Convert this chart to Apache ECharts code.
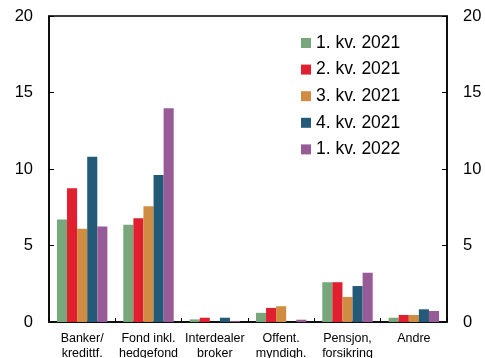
<!DOCTYPE html>
<html>
<head>
<meta charset="utf-8">
<script src="https://cdn.jsdelivr.net/npm/echarts@6/dist/echarts.min.js"></script>
<style>
  html, body { margin: 0; padding: 0; background: #fff; }
  #chart { width: 485px; height: 358px; }
</style>
</head>
<body>
<div id="chart"></div>
<script>
// Sector categories on the x axis
const categories = [
  'Banker/\nkredittf.',
  'Fond inkl.\nhedgefond',
  'Interdealer\nbroker',
  'Offent.\nmyndigh.',
  'Pensjon,\nforsikring',
  'Andre'
];

// One array per quarter
const seriesNames = ['1. kv. 2021', '2. kv. 2021', '3. kv. 2021', '4. kv. 2021', '1. kv. 2022'];
const q1_2021 = [6.7, 6.35, 0.17, 0.6, 2.6, 0.28];
const q2_2021 = [8.75, 6.78, 0.28, 0.92, 2.6, 0.46];
const q3_2021 = [6.1, 7.57, 0, 1.03, 1.64, 0.46];
const q4_2021 = [10.8, 9.6, 0.28, 0, 2.35, 0.83];
const q1_2022 = [6.25, 13.97, 0.06, 0.15, 3.22, 0.72];

const yTicks = [0, 5, 10, 15, 20];

const seriesValues = [q1_2021, q2_2021, q3_2021, q4_2021, q1_2022];
const colors = ['#79a77c', '#e0202f', '#d08c42', '#225a78', '#975b98'];

const font = 'Liberation Sans, Arial, sans-serif';

const yAxisBase = {
  type: 'value',
  min: yTicks[0],
  max: yTicks[yTicks.length - 1],
  interval: yTicks[1] - yTicks[0],
  splitLine: { show: false },
  axisLine: { show: true, lineStyle: { color: '#000', width: 1.5 } },
  axisTick: { show: true, inside: true, length: 5, lineStyle: { color: '#000' } },
  axisLabel: { color: '#000', fontSize: 16.5, fontFamily: font, margin: 16 }
};

const chart = echarts.init(document.getElementById('chart'), null, { renderer: 'canvas' });
chart.setOption({
  animation: false,
  backgroundColor: '#fff',
  grid: {
    left: 49, right: 38, top: 16, bottom: 36,
    containLabel: false,
    outerBoundsMode: 'none',
    show: true, borderColor: '#000', borderWidth: 1.5
  },
  legend: {
    orient: 'vertical',
    left: 301,
    top: 34,
    padding: 0,
    itemWidth: 10,
    itemHeight: 10,
    itemGap: 8.6,
    icon: 'rect',
    textStyle: { color: '#000', fontSize: 17.5, fontFamily: font },
    data: seriesNames
  },
  xAxis: {
    type: 'category',
    data: categories,
    axisLine: { lineStyle: { color: '#000', width: 1.5 } },
    axisTick: { show: true, inside: true, length: 4, lineStyle: { color: '#000' } },
    axisLabel: {
      color: '#000', fontSize: 12.5, fontFamily: font,
      margin: 9, lineHeight: 15, interval: 0
    }
  },
  yAxis: [
    Object.assign({}, yAxisBase, { position: 'left' }),
    Object.assign({}, yAxisBase, { position: 'right' })
  ],
  series: seriesNames.map((name, i) => ({
    name: name,
    type: 'bar',
    data: seriesValues[i],
    itemStyle: { color: colors[i] },
    barGap: '0%',
    barCategoryGap: '24%'
  }))
});
</script>
</body>
</html>
